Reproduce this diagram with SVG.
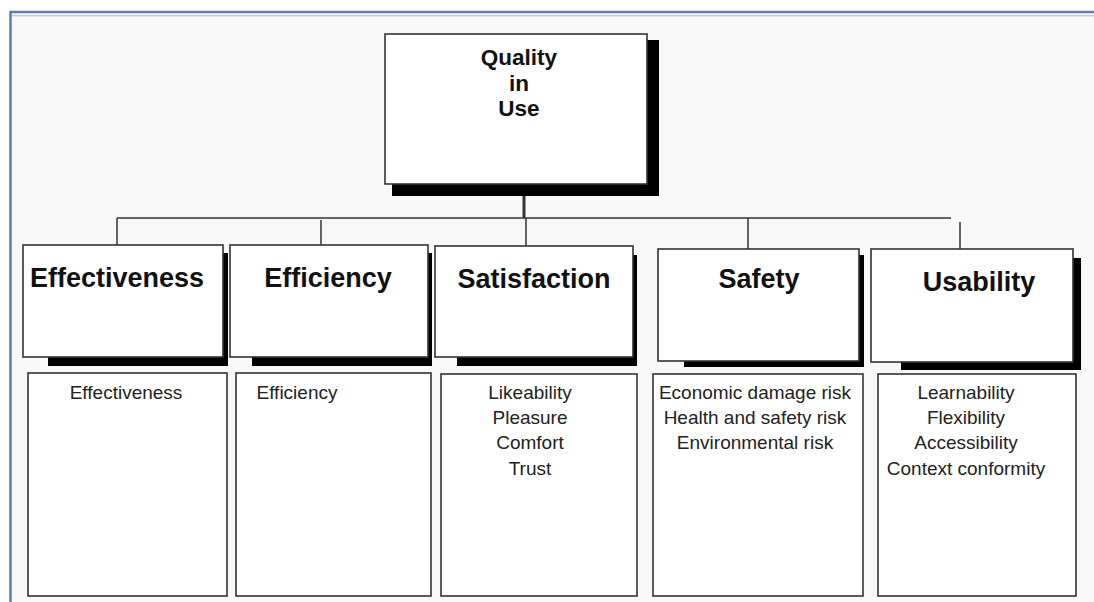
<svg xmlns="http://www.w3.org/2000/svg" width="1094" height="602" viewBox="0 0 1094 602">
<style>
.box{fill:#fff;stroke:#333;stroke-width:1.6}
.shadow{fill:#000}
.conn{stroke:#333;stroke-width:1.5;fill:none}
.root{font-family:"Liberation Sans",Arial,sans-serif;font-weight:bold;font-size:22.5px;fill:#111;text-anchor:middle}
.cat{font-family:"Liberation Sans",Arial,sans-serif;font-weight:bold;font-size:27px;fill:#111;text-anchor:middle}
.item{font-family:"Liberation Sans",Arial,sans-serif;font-size:19px;fill:#222;text-anchor:middle}
</style>
<rect x="0" y="0" width="1094" height="602" fill="#fff"/>
<rect x="10.5" y="12" width="1100" height="600" fill="#f8f8f8" stroke="#5a7fb0" stroke-width="2.5"/>
<line x1="12" y1="15.8" x2="1094" y2="15.8" stroke="#9bb2d3" stroke-width="1"/>

<g id="connectors">
<line class="conn" x1="524" y1="184" x2="524" y2="218" style="stroke-width:3"/>
<line class="conn" x1="117" y1="218" x2="951" y2="218"/>
<line class="conn" x1="117" y1="218" x2="117" y2="245"/>
<line class="conn" x1="321" y1="220" x2="321" y2="245"/>
<line class="conn" x1="526" y1="218" x2="526" y2="246"/>
<line class="conn" x1="748" y1="218" x2="748" y2="249"/>
<line class="conn" x1="960" y1="222" x2="960" y2="249"/>
</g>

<g id="root">
<rect class="shadow" x="392" y="40" width="267" height="156"/>
<rect class="box" x="385" y="34" width="262" height="150"/>
<text class="root" x="519" y="65">Quality</text>
<text class="root" x="519" y="91">in</text>
<text class="root" x="519" y="116">Use</text>
</g>

<g id="cat-effectiveness">
<rect class="shadow" x="48" y="253" width="180" height="113"/>
<rect class="box" x="23" y="245" width="200" height="112"/>
<text class="cat" x="117" y="287">Effectiveness</text>
</g>
<g id="cat-efficiency">
<rect class="shadow" x="252" y="253" width="180" height="113"/>
<rect class="box" x="230" y="245" width="198" height="112"/>
<text class="cat" x="328" y="287">Efficiency</text>
</g>
<g id="cat-satisfaction">
<rect class="shadow" x="457" y="255" width="180" height="111"/>
<rect class="box" x="435" y="246" width="198" height="111"/>
<text class="cat" x="534" y="288">Satisfaction</text>
</g>
<g id="cat-safety">
<rect class="shadow" x="684" y="255" width="180" height="112"/>
<rect class="box" x="658" y="249" width="201" height="112"/>
<text class="cat" x="759" y="288">Safety</text>
</g>
<g id="cat-usability">
<rect class="shadow" x="901" y="258" width="180" height="112"/>
<rect class="box" x="871" y="249" width="202" height="113"/>
<text class="cat" x="979" y="291">Usability</text>
</g>

<g id="list-effectiveness">
<rect class="box" x="28" y="373" width="199" height="223"/>
<text class="item" x="126" y="399">Effectiveness</text>
</g>
<g id="list-efficiency">
<rect class="box" x="236" y="373" width="195" height="223"/>
<text class="item" x="297" y="399">Efficiency</text>
</g>
<g id="list-satisfaction">
<rect class="box" x="441" y="374" width="196" height="222"/>
<text class="item" x="530" y="399">Likeability</text>
<text class="item" x="530" y="424">Pleasure</text>
<text class="item" x="530" y="449">Comfort</text>
<text class="item" x="530" y="475">Trust</text>
</g>
<g id="list-safety">
<rect class="box" x="653" y="374" width="210" height="222"/>
<text class="item" x="755" y="399">Economic damage risk</text>
<text class="item" x="755" y="424">Health and safety risk</text>
<text class="item" x="755" y="449">Environmental risk</text>
</g>
<g id="list-usability">
<rect class="box" x="878" y="374" width="198" height="222"/>
<text class="item" x="966" y="399">Learnability</text>
<text class="item" x="966" y="424">Flexibility</text>
<text class="item" x="966" y="449">Accessibility</text>
<text class="item" x="966" y="475">Context conformity</text>
</g>
</svg>
